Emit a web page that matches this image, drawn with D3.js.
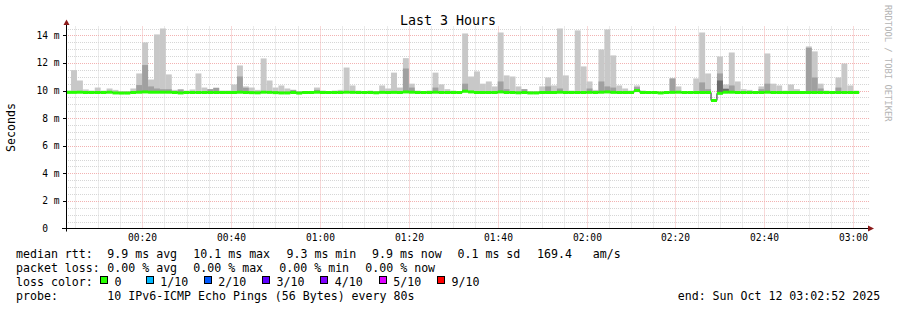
<!DOCTYPE html>
<html>
<head>
<meta charset="utf-8">
<script src="https://cdn.jsdelivr.net/npm/d3@7"></script>
<style>
  body { margin: 0; background: #fff; }
  text { font-family: "DejaVu Sans Mono", monospace; white-space: pre; }
</style>
</head>
<body>
<div id="chart"></div>
<script>
// smokeping style graph: smoke bars + median rtt, last 3 hours
const endTime = new Date(2025, 9, 12, 3, 2, 52);
const startTime = new Date(+endTime - 3 * 3600 * 1000);
const stepSec = 80;
const firstBinOffset = -12; // seconds before startTime where bin 0 begins

// top of the outer (lightest) smoke band, ms
const maxRtt = [
  10.0, 11.48, 10.73, 10.08, 10.0, 10.22, 10.0, 10.15, 10.05, 9.95,
  9.95, 10.15, 11.24, 13.49, 10.8, 14.07, 14.5, 11.17, 10.05, 10.08,
  10.0, 10.08, 11.24, 10.22, 10.1, 10.2, 10.0, 10.0, 10.44, 11.82,
  10.3, 10.22, 10.05, 12.33, 10.73, 10.22, 10.37, 10.15, 10.05, 9.97,
  9.95, 9.95, 10.22, 10.0, 9.95, 10.0, 10.05, 11.67, 10.37, 10.0,
  9.95, 10.0, 9.97, 10.37, 10.15, 11.3, 10.22, 12.35, 10.5, 10.0,
  9.95, 10.0, 11.3, 10.45, 10.1, 10.0, 9.95, 14.14, 11.02, 11.39,
  10.5, 10.66, 10.3, 14.21, 11.1, 11.02, 10.3, 10.1, 9.95, 9.95,
  10.3, 10.95, 10.37, 14.5, 11.1, 10.0, 14.36, 11.75, 10.66, 10.05,
  12.98, 14.43, 12.55, 10.37, 10.15, 10.0, 10.37, 10.0, 9.9, 9.9,
  9.85, 9.95, 10.88, 10.3, 9.95, 9.95, 10.88, 14.21, 11.24, 9.3,
  12.47, 10.44, 12.76, 10.66, 10.1, 10.05, 9.95, 10.3, 12.69, 10.5,
  10.37, 10.0, 10.44, 10.1, 9.95, 13.2, 12.84, 10.5, 10.0, 9.95,
  10.95, 11.96, 10.37, 10.0
];

// top of the inner (darker) smoke band, ms
const midRtt = [
  9.9, 9.9, 9.9, 9.9, 9.9, 9.9, 9.9, 9.9, 9.9, 9.9,
  9.9, 9.9, 10.4, 11.85, 10.3, 10.15, 10.1, 10.1, 9.9, 10.08,
  9.9, 9.9, 9.9, 9.9, 10.1, 10.2, 9.9, 9.9, 9.9, 11.02,
  10.2, 9.9, 9.9, 9.9, 9.9, 9.9, 9.9, 9.9, 10.05, 9.9,
  9.9, 9.9, 10.05, 9.9, 9.9, 9.9, 9.9, 9.9, 9.9, 9.9,
  9.9, 9.9, 9.9, 9.9, 9.9, 9.9, 9.9, 11.6, 10.22, 9.9,
  9.9, 9.9, 10.22, 9.9, 9.9, 9.9, 9.9, 10.5, 9.9, 9.9,
  9.9, 9.9, 9.9, 10.66, 10.1, 9.9, 9.9, 10.1, 9.9, 9.9,
  9.9, 10.3, 9.9, 10.15, 9.9, 9.9, 9.9, 9.9, 10.15, 9.9,
  10.66, 10.3, 10.22, 9.9, 9.9, 9.9, 10.25, 9.9, 9.9, 9.9,
  9.9, 9.9, 10.88, 9.9, 9.9, 9.9, 9.9, 10.59, 10.1, 9.3,
  11.24, 10.15, 10.37, 9.9, 9.9, 9.9, 9.9, 10.1, 10.5, 9.9,
  9.9, 9.9, 9.9, 9.9, 9.9, 13.1, 10.95, 10.15, 9.9, 9.9,
  10.22, 9.9, 9.9, 9.9
];

// median rtt per bin, ms
const medianRtt = [
  9.87, 9.87, 9.88, 9.86, 9.86, 9.86, 9.86, 9.88, 9.83, 9.82,
  9.82, 9.86, 9.88, 9.9, 9.88, 9.88, 9.88, 9.88, 9.86, 9.83,
  9.86, 9.86, 9.86, 9.86, 9.86, 9.86, 9.86, 9.86, 9.86, 9.88,
  9.86, 9.85, 9.84, 9.88, 9.87, 9.85, 9.83, 9.83, 9.86, 9.82,
  9.86, 9.86, 9.88, 9.86, 9.86, 9.86, 9.86, 9.88, 9.87, 9.86,
  9.86, 9.86, 9.84, 9.87, 9.86, 9.87, 9.86, 9.9, 9.88, 9.86,
  9.86, 9.86, 9.88, 9.86, 9.86, 9.86, 9.86, 9.95, 9.9, 9.86,
  9.86, 9.86, 9.86, 9.9, 9.86, 9.86, 9.84, 9.86, 9.83, 9.83,
  9.86, 9.86, 9.86, 9.88, 9.86, 9.86, 9.86, 9.86, 9.87, 9.86,
  9.88, 9.9, 9.87, 9.86, 9.86, 9.86, 10.0, 9.86, 9.86, 9.86,
  9.83, 9.86, 9.87, 9.88, 9.86, 9.86, 9.86, 9.86, 9.86, 9.28,
  9.8, 9.88, 9.88, 9.86, 9.86, 9.86, 9.86, 9.86, 9.88, 9.86,
  9.86, 9.86, 9.86, 9.86, 9.86, 9.86, 9.86, 9.86, 9.86, 9.86,
  9.86, 9.86, 9.86, 9.86
];

// darkest smoke core for a couple of bins
const darkBins = [110, 111];
const darkRtt = [10.73, 10.12];

const yTicks = [0, 2, 4, 6, 8, 10, 12, 14];
const lossLabels = ["0", "1/10", "2/10", "3/10", "4/10", "5/10", "9/10"];
const lossColors = ["#26ff00", "#00b8ff", "#0059ff", "#5e00ff", "#7e00ff", "#dd00ff", "#ff0000"];

const statsRtt = ["9.9 ms avg", "10.1 ms max", "9.3 ms min", "9.9 ms now", "0.1 ms sd", "169.4   am/s"];
const statsLoss = ["0.00 % avg", "0.00 % max", "0.00 % min", "0.00 % now"];

let canvas = { width: 897, height: 310 };
let plot = { left: 66, right: 866, top: 28.5, bottom: 228.5 };

let svg = d3.select("#chart")
  .append("svg")
  .attr("width", canvas.width)
  .attr("height", canvas.height);

svg.append("rect")
  .attr("width", canvas.width)
  .attr("height", canvas.height)
  .attr("fill", "#fff");

const x = d3.scaleTime()
  .domain([startTime, endTime])
  .range([plot.left, plot.right]);

const y = d3.scaleLinear()
  .domain([0, 14.5])
  .range([plot.bottom, plot.top]);

const crisp = v => Math.round(v) + 0.5;

// grid
const minorX = d3.timeMinute.every(5).range(startTime, endTime).filter(t => t.getMinutes() % 20 != 0);
const majorX = d3.timeMinute.every(20).range(startTime, endTime);
const minorY = d3.range(0.5, 14.51, 0.5).filter(v => v % 2 != 0);
const majorY = yTicks.filter(v => v > 0);

let grid = svg.append("g").attr("stroke-width", 1).attr("stroke-dasharray", "1,1");

grid.append("g").attr("stroke", "#d6d6d6")
  .selectAll("line")
  .data(minorY)
  .join("line")
    .attr("x1", plot.left).attr("x2", plot.right + 3)
    .attr("y1", d => crisp(y(d))).attr("y2", d => crisp(y(d)));

grid.append("g").attr("stroke", "#d6d6d6")
  .selectAll("line")
  .data(minorX)
  .join("line")
    .attr("x1", d => crisp(x(d))).attr("x2", d => crisp(x(d)))
    .attr("y1", plot.top - 2).attr("y2", plot.bottom);

grid.append("g").attr("stroke", "#f2b2b2")
  .selectAll("line")
  .data(majorY)
  .join("line")
    .attr("x1", plot.left).attr("x2", plot.right + 3)
    .attr("y1", d => crisp(y(d))).attr("y2", d => crisp(y(d)));

grid.append("g").attr("stroke", "#f2b2b2")
  .selectAll("line")
  .data(majorX)
  .join("line")
    .attr("x1", d => crisp(x(d))).attr("x2", d => crisp(x(d)))
    .attr("y1", plot.top - 2).attr("y2", plot.bottom);

// bins
svg.append("clipPath").attr("id", "clip")
  .append("rect")
  .attr("x", plot.left + 1).attr("y", 0)
  .attr("width", plot.right - plot.left).attr("height", plot.bottom);

const bins = medianRtt.map((m, i) => ({
  t0: new Date(+startTime + (firstBinOffset + i * stepSec) * 1000),
  t1: new Date(+startTime + (firstBinOffset + (i + 1) * stepSec) * 1000),
  median: m,
  max: maxRtt[i],
  mid: midRtt[i],
}));

let data = svg.append("g").attr("clip-path", "url(#clip)");

const smoke = (layer, top, color) => {
  data.append("g").attr("fill", color)
    .selectAll("rect")
    .data(layer.filter(d => top(d) > d.median))
    .join("rect")
      .attr("x", d => x(d.t0))
      .attr("width", d => x(d.t1) - x(d.t0))
      .attr("y", d => y(top(d)))
      .attr("height", d => y(d.median) - y(top(d)));
};

smoke(bins, d => d.max, "#c8c8c8");
smoke(bins, d => d.mid, "#a0a0a0");
smoke(darkBins.map((b, i) => Object.assign({}, bins[b], { dark: darkRtt[i] })), d => d.dark, "#6a6a6a");

// median: thin dark step line, loss coloured band on top
const stepPts = [];
bins.forEach(d => { stepPts.push([x(d.t0), y(d.median)]); stepPts.push([x(d.t1), y(d.median)]); });
data.append("path")
  .attr("d", d3.line()(stepPts))
  .attr("fill", "none")
  .attr("stroke", "#202020")
  .attr("stroke-width", 1);

data.append("g").attr("fill", lossColors[0])
  .selectAll("rect")
  .data(bins)
  .join("rect")
    .attr("x", d => x(d.t0))
    .attr("width", d => x(d.t1) - x(d.t0))
    .attr("y", d => y(d.median) - 1.5)
    .attr("height", 3);

// axes
svg.append("line")
  .attr("x1", 62).attr("x2", 869)
  .attr("y1", plot.bottom).attr("y2", plot.bottom)
  .attr("stroke", "#000");
svg.append("line")
  .attr("x1", plot.left + 0.5).attr("x2", plot.left + 0.5)
  .attr("y1", plot.bottom + 3).attr("y2", 24)
  .attr("stroke", "#000");
svg.append("path")
  .attr("d", `M868,225.5L874,228.5L868,231.5Z`)
  .attr("fill", "#8b1a1a");
svg.append("path")
  .attr("d", `M63.5,25L66.5,19.5L69.5,25Z`)
  .attr("fill", "#8b1a1a");

svg.append("g").attr("stroke", "#000")
  .selectAll("line")
  .data(majorY)
  .join("line")
    .attr("x1", plot.left - 3).attr("x2", plot.left)
    .attr("y1", d => crisp(y(d))).attr("y2", d => crisp(y(d)));

svg.append("g")
  .attr("font-size", "9.6px")
  .attr("text-anchor", "end")
  .selectAll("text")
  .data(yTicks)
  .join("text")
    .attr("x", 59.5)
    .attr("y", d => y(d))
    .attr("dy", "0.35em")
    .text(d => d == 0 ? "0  " : d + " m");

svg.append("g")
  .attr("font-size", "9.6px")
  .attr("text-anchor", "middle")
  .selectAll("text")
  .data(majorX)
  .join("text")
    .attr("x", d => crisp(x(d)))
    .attr("y", 241)
    .text(d3.timeFormat("%H:%M"));

// titles
svg.append("text")
  .attr("x", 448).attr("y", 24.5)
  .attr("font-size", "13.3px")
  .attr("text-anchor", "middle")
  .text("Last 3 Hours");

svg.append("text")
  .attr("transform", "translate(11,127.5) rotate(-90)")
  .attr("font-size", "11.6px")
  .attr("text-anchor", "middle")
  .attr("dy", "0.35em")
  .text("Seconds");

svg.append("text")
  .attr("transform", "translate(884.5,5) rotate(90)")
  .attr("font-size", "8.8px")
  .attr("fill", "#b4b4b4")
  .text("RRDTOOL / TOBI OETIKER");

// legend
let legend = svg.append("g").attr("font-size", "11.6px").attr("fill", "#000");
const rowY = [257.5, 271.5, 285.5, 299.5];
const rttX = [107.3, 193.3, 286.5, 372, 457.5, 537];
const lossX = [107.3, 193.3, 279.3, 365.3];
const swatchX = [100, 145.7, 203.7, 262, 320.3, 378.7, 437];

legend.append("text").attr("x", 16).attr("y", rowY[0]).text("median rtt:");
legend.append("g").selectAll("text").data(statsRtt).join("text")
  .attr("x", (d, i) => rttX[i]).attr("y", rowY[0]).text(d => d);

legend.append("text").attr("x", 16).attr("y", rowY[1]).text("packet loss:");
legend.append("g").selectAll("text").data(statsLoss).join("text")
  .attr("x", (d, i) => lossX[i]).attr("y", rowY[1]).text(d => d);

legend.append("text").attr("x", 16).attr("y", rowY[2]).text("loss color:");
legend.append("g").selectAll("rect").data(lossColors).join("rect")
  .attr("x", (d, i) => Math.round(swatchX[i]) + 0.5).attr("y", 276.5)
  .attr("width", 7).attr("height", 7)
  .attr("fill", d => d).attr("stroke", "#000");
legend.append("g").selectAll("text").data(lossLabels).join("text")
  .attr("x", (d, i) => swatchX[i] + 14.5).attr("y", rowY[2]).text(d => d);

legend.append("text").attr("x", 16).attr("y", rowY[3]).text("probe:");
legend.append("text").attr("x", 107.3).attr("y", rowY[3]).text("10 IPv6-ICMP Echo Pings (56 Bytes) every 80s");
legend.append("text").attr("x", 677.7).attr("y", rowY[3]).text("end: Sun Oct 12 03:02:52 2025");
</script>
</body>
</html>
